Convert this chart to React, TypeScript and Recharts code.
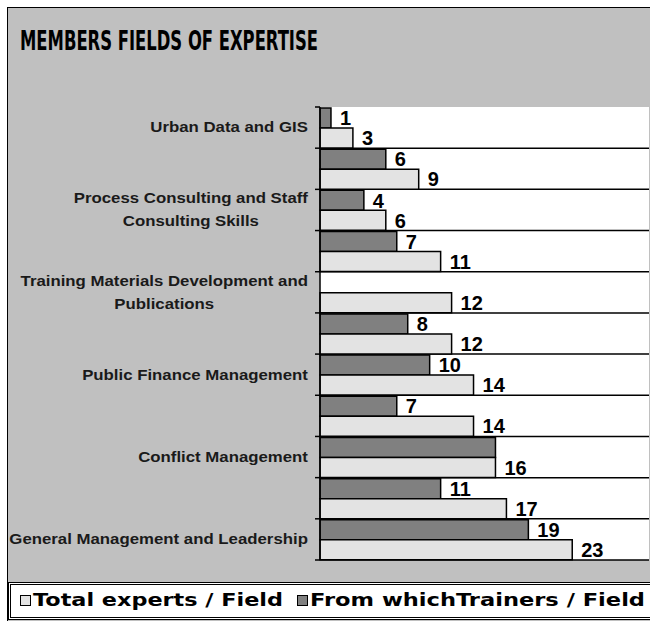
import { Bar, BarChart, CartesianGrid, LabelList, XAxis, YAxis } from 'recharts';

const categories = [
  'Urban Data and GIS',
  'Field 2',
  'Process Consulting and Staff Consulting Skills',
  'Field 4',
  'Training Materials Development and Publications',
  'Field 6',
  'Public Finance Management',
  'Field 8',
  'Conflict Management',
  'Field 10',
  'General Management and Leadership',
];
const trainers: (number | null)[] = [1, 6, 4, 7, null, 8, 10, 7, 16, 11, 19];
const totals = [3, 9, 6, 11, 12, 12, 14, 14, 16, 17, 23];
const seriesNames = ['Total experts / Field', 'From whichTrainers / Field'];
const xDomain = [0, 30];

const data = categories.map((name, i) => ({ name, trainers: trainers[i], total: totals[i] }));

const W = 650;
const H = 621;
const TOP = 107;
const BOTTOM = 61;
const AXIS_X = 320;
const BAND = (H - TOP - BOTTOM) / categories.length;

const DARK = '#808080';
const LIGHT = '#e3e3e3';
const labelFont = "'Liberation Sans', Arial, sans-serif";

let canvasCtx: CanvasRenderingContext2D | null = null;
function measure(text: string, font: string) {
  if (!canvasCtx) canvasCtx = document.createElement('canvas').getContext('2d');
  if (!canvasCtx) return text.length * 7.5;
  canvasCtx.font = font;
  return canvasCtx.measureText(text).width;
}

function wrap(value: string, maxChars = 34) {
  const lines: string[] = [];
  let cur = '';
  for (const word of value.split(' ')) {
    if (!cur) cur = word;
    else if (`${cur} ${word}`.length <= maxChars) cur = `${cur} ${word}`;
    else {
      lines.push(cur);
      cur = word;
    }
  }
  if (cur) lines.push(cur);
  return lines;
}

function CategoryTick({ y, payload, index }: any) {
  const showLabel = index % 2 === 0;
  const lines = showLabel ? wrap(String(payload?.value ?? '')) : [];
  const font = `bold 14px ${labelFont}`;
  const maxW = Math.max(0, ...lines.map((l) => measure(l, font)));
  const lineH = 23;
  const top = (y as number) - BAND / 2;
  return (
    <g>
      <line x1={AXIS_X - 5} x2={AXIS_X} y1={top} y2={top} stroke="#000" strokeWidth={1.5} />
      {index === categories.length - 1 && (
        <line x1={AXIS_X - 5} x2={AXIS_X} y1={top + BAND} y2={top + BAND} stroke="#000" strokeWidth={1.5} />
      )}
      {showLabel && (
        <g transform={`translate(${AXIS_X - 12},${y}) scale(1.2,1)`}>
          <text textAnchor="middle" fontFamily={labelFont} fontWeight={700} fontSize={14} fill="#1a1a1a">
            {lines.map((line, i) => (
              <tspan key={i} x={-maxW / 2} y={(i - (lines.length - 1) / 2) * lineH} dy="0.35em">
                {line}
              </tspan>
            ))}
          </text>
        </g>
      )}
    </g>
  );
}

function ValueLabel({ x, y, width, height, value }: any) {
  if (value == null) return null;
  return (
    <text
      x={x + width + 9}
      y={y + height / 2}
      dy="0.36em"
      fontFamily={labelFont}
      fontWeight={700}
      fontSize={20}
      fill="#000"
    >
      {value}
    </text>
  );
}

// the trainers label is hidden where it would sit on top of the equal total label
const trainersLabelValue = (d: any) => (d.trainers === d.total ? null : d.trainers);

export default function App() {
  return (
    <div style={{ position: 'absolute', left: 0, top: 0, width: W, height: H, overflow: 'hidden', background: '#fff' }}>
      <div
        style={{
          position: 'absolute',
          left: 7,
          top: 7,
          width: 670,
          height: 640,
          background: '#c0c0c0',
          border: '1px solid #000',
        }}
      />
      <svg style={{ position: 'absolute', left: 0, top: 0 }} width={W} height={70}>
        <text
          x={20}
          y={50}
          fontFamily="'DejaVu Sans Condensed', 'DejaVu Sans', sans-serif"
          fontWeight={900}
          fontSize={27}
          textLength={298}
          lengthAdjust="spacingAndGlyphs"
          fill="#000"
        >
          MEMBERS FIELDS OF EXPERTISE
        </text>
      </svg>
      <div style={{ position: 'absolute', left: 0, top: 0 }}>
        <BarChart
          width={W}
          height={H}
          data={data}
          layout="vertical"
          margin={{ top: TOP, right: 1, bottom: BOTTOM, left: 0 }}
          barCategoryGap={1}
          barGap={0}
        >
          <CartesianGrid
            vertical={false}
            fill="#fff"
            fillOpacity={1}
            stroke="#000"
            strokeWidth={1.5}
            horizontalCoordinatesGenerator={({ offset }: any) =>
              categories.map((_, i) => offset.top + ((i + 1) * offset.height) / categories.length)
            }
          />
          <XAxis type="number" domain={xDomain} hide />
          <YAxis
            type="category"
            dataKey="name"
            width={AXIS_X}
            interval={0}
            tickLine={false}
            axisLine={{ stroke: '#000', strokeWidth: 1.5 }}
            tick={<CategoryTick />}
          />
          <Bar dataKey="trainers" name={seriesNames[1]} fill={DARK} stroke="#000" strokeWidth={1.5} isAnimationActive={false}>
            <LabelList dataKey={trainersLabelValue} content={<ValueLabel />} />
          </Bar>
          <Bar dataKey="total" name={seriesNames[0]} fill={LIGHT} stroke="#000" strokeWidth={1.5} isAnimationActive={false}>
            <LabelList dataKey="total" content={<ValueLabel />} />
          </Bar>
        </BarChart>
      </div>
      <div
        style={{
          position: 'absolute',
          left: 8,
          top: 582,
          width: 660,
          height: 38,
          boxSizing: 'border-box',
          border: '3px double #000',
          background: '#fff',
        }}
      />
      <svg style={{ position: 'absolute', left: 0, top: 582 }} width={W} height={38}>
        <rect x={20.5} y={13.5} width={10} height={10} fill={LIGHT} stroke="#000" />
        <text x={33} y={24} fontFamily="'DejaVu Sans', Verdana, sans-serif" fontWeight={700} fontSize={17} textLength={250} lengthAdjust="spacingAndGlyphs" fill="#000">
          {seriesNames[0]}
        </text>
        <rect x={297.5} y={13.5} width={10} height={10} fill={DARK} stroke="#000" />
        <text x={310} y={24} fontFamily="'DejaVu Sans', Verdana, sans-serif" fontWeight={700} fontSize={17} textLength={335} lengthAdjust="spacingAndGlyphs" fill="#000">
          {seriesNames[1]}
        </text>
      </svg>
    </div>
  );
}
